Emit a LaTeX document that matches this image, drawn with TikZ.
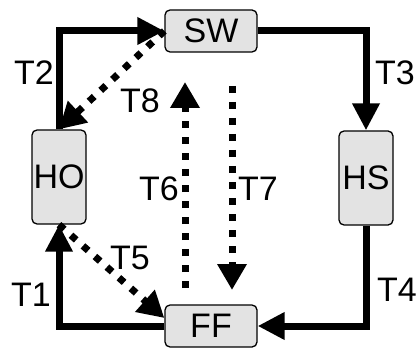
\documentclass[tikz,border=0pt]{standalone}
\usepackage{fontspec}
\setmainfont{Liberation Sans}
\usetikzlibrary{arrows.meta}
\begin{document}
\begin{tikzpicture}[x=1pt,y=-1pt,font=\fontsize{34}{34}\selectfont,
 box/.style={draw,line width=1.3pt,fill=gray!22,rounded corners=5pt,inner sep=0pt},
 flat/.style={box,minimum width=92pt,minimum height=42pt},
 tall/.style={box,minimum width=54pt,minimum height=94pt},
 solidarr/.style={line width=7pt,-{Triangle[length=27pt,width=26pt]}},
 dotarr/.style={line width=7pt,dash pattern=on 7pt off 9pt,-{Triangle[length=26pt,width=28pt]}}]
\useasboundingbox (0,0) rectangle (419,347);
\node[flat] (sw) at (211,31) {SW}; \node[flat] (ff) at (211,326) {FF};
\node[tall] (ho) at (59,177) {HO}; \node[tall] (hs) at (366,178) {HS};
\coordinate (up0) at (185,288); \coordinate (up1) at (185,82);
\coordinate (dn0) at (232,86); \coordinate (dn1) at (232,290);
\draw[solidarr] (ff.west) -| (ho.south); \draw[solidarr] (ho.north) |- (sw.west);
\draw[solidarr] (sw.east) -| (hs.north); \draw[solidarr] (hs.south) |- (ff.east);
\draw[dotarr] (ho.south) -- ([yshift=8pt]ff.west); \draw[dotarr] (up0) -- (up1);
\draw[dotarr] (dn0) -- (dn1); \draw[dotarr] (sw.west) -- (ho.north);
\node (t1) at (31,295) {T1}; \node (t2) at (34,73) {T2};
\node (t3) at (395,73) {T3}; \node (t4) at (397,290) {T4};
\node (t5) at (130,258) {T5}; \node (t6) at (159,189) {T6};
\node (t7) at (258,189) {T7}; \node (t8) at (140,101) {T8};
% \node[draw] at (211,177) {};
\end{tikzpicture}
\end{document}
